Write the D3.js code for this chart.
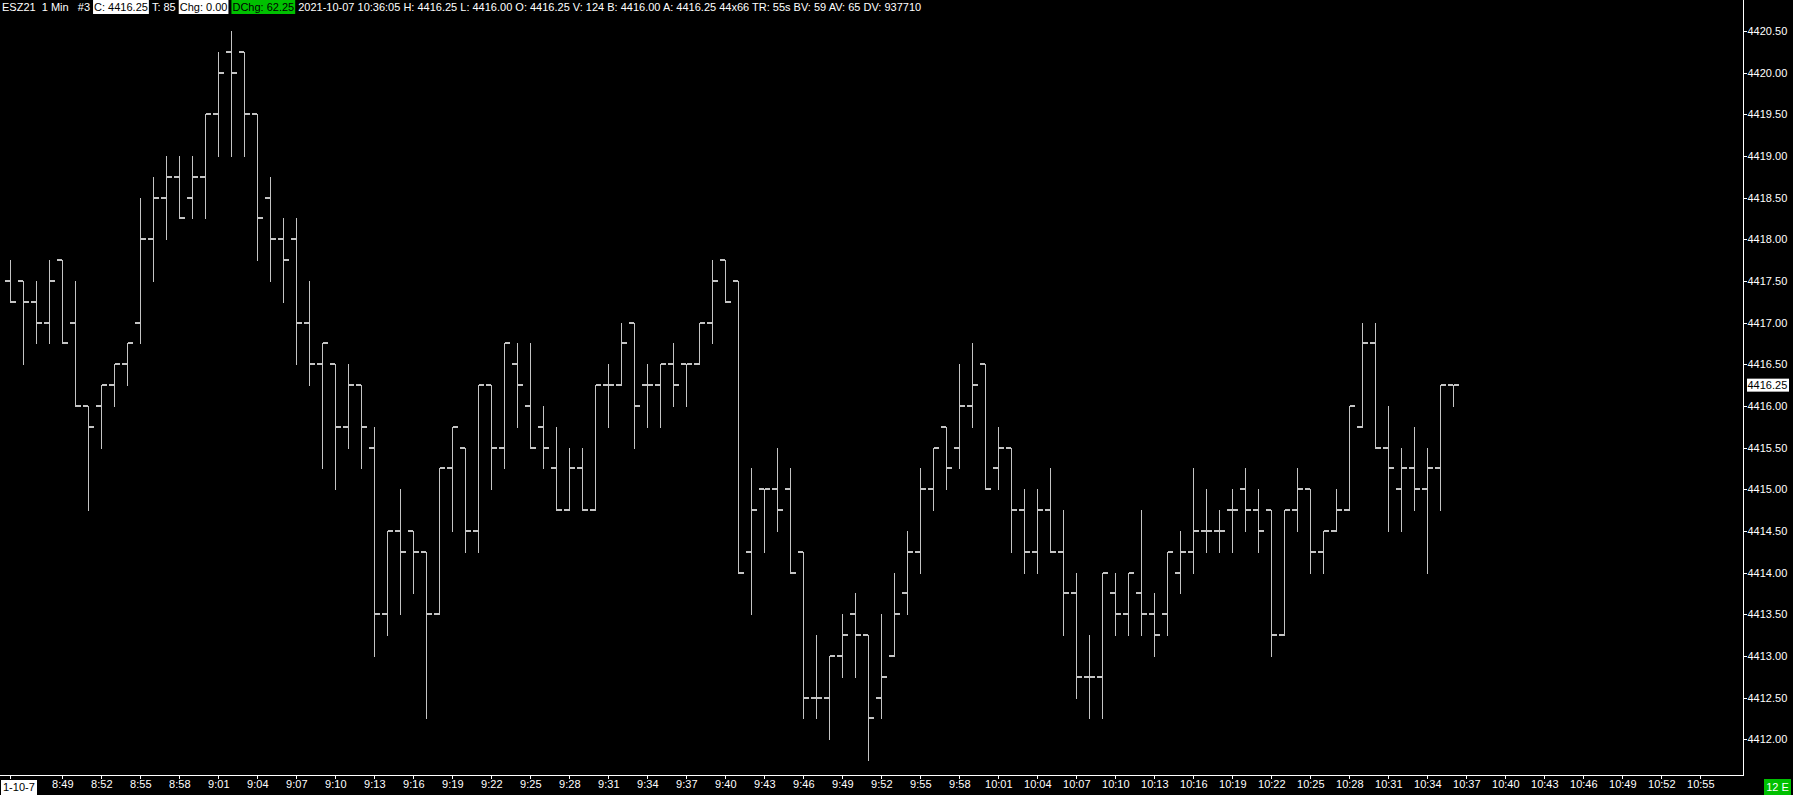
<!DOCTYPE html>
<html>
<head>
<meta charset="utf-8">
<script src="https://cdn.jsdelivr.net/npm/d3@7"></script>
<style>
  html, body { margin: 0; padding: 0; background: #000; }
  svg { display: block; }
</style>
</head>
<body>
<div id="content"></div>
<script>
// bar data, ESZ21 1 min, 8:45 .. 10:36
var opens = [4417.5,4417.5,4417.25,4417.0,4417.75,4417.0,4416.0,4416.0,4416.25,4416.5,
  4417.0,4418.0,4418.5,4418.75,4418.5,4418.75,4419.5,4420.25,4420.25,4419.5,
  4418.5,4418.0,4418.0,4417.0,4416.5,4416.5,4415.75,4416.25,4415.5,4413.5,
  4414.5,4414.5,4414.25,4413.5,4415.25,4415.5,4414.5,4416.25,4415.5,4416.5,
  4416.0,4415.75,4415.25,4414.75,4415.25,4414.75,4416.25,4416.25,4417.0,4416.25,
  4416.25,4416.5,4416.5,4416.5,4417.0,4417.75,4417.5,4414.25,4415.0,4415.0,
  4415.0,4414.25,4412.5,4412.5,4413.0,4413.5,4413.25,4412.5,4413.0,4413.75,
  4414.25,4415.0,4415.75,4415.5,4416.0,4416.5,4415.25,4415.5,4414.75,4414.25,
  4414.75,4414.25,4413.75,4412.75,4412.75,4413.75,4413.5,4413.75,4413.5,4413.5,
  4414.0,4414.25,4414.5,4414.5,4414.75,4415.0,4414.75,4414.75,4413.25,4414.75,
  4415.0,4414.25,4414.5,4414.75,4415.75,4416.75,4415.5,4415.0,4415.25,4415.0,
  4415.25,4416.25]
var highs = [4417.75,4417.5,4417.5,4417.75,4417.75,4417.5,4416.0,4416.25,4416.5,4416.75,
  4418.5,4418.75,4419.0,4419.0,4419.0,4419.5,4420.25,4420.5,4420.25,4419.5,
  4418.75,4418.25,4418.25,4417.5,4416.75,4416.5,4416.5,4416.25,4415.75,4414.5,
  4415.0,4414.5,4414.25,4415.25,4415.75,4415.5,4416.25,4416.25,4416.75,4416.75,
  4416.75,4416.0,4415.75,4415.5,4415.5,4416.25,4416.5,4417.0,4417.0,4416.5,
  4416.5,4416.75,4416.5,4417.0,4417.75,4417.75,4417.5,4415.25,4415.0,4415.5,
  4415.25,4414.25,4413.25,4413.0,4413.5,4413.75,4413.25,4413.5,4414.0,4414.5,
  4415.25,4415.5,4415.75,4416.5,4416.75,4416.5,4415.75,4415.5,4415.0,4415.0,
  4415.25,4414.75,4414.0,4413.25,4414.0,4414.0,4414.0,4414.75,4413.75,4414.25,
  4414.5,4415.25,4415.0,4414.75,4415.0,4415.25,4415.0,4414.75,4414.75,4415.25,
  4415.0,4414.5,4415.0,4416.0,4417.0,4417.0,4416.0,4415.5,4415.75,4415.5,
  4416.25,4416.25]
var lows = [4417.25,4416.5,4416.75,4416.75,4416.75,4416.0,4414.75,4415.5,4416.0,4416.25,
  4416.75,4417.5,4418.0,4418.25,4418.25,4418.25,4419.0,4419.0,4419.0,4417.75,
  4417.5,4417.25,4416.5,4416.25,4415.25,4415.0,4415.5,4415.25,4413.0,4413.25,
  4413.5,4413.75,4412.25,4413.5,4414.5,4414.25,4414.25,4415.0,4415.25,4415.75,
  4415.5,4415.25,4414.75,4414.75,4414.75,4414.75,4415.75,4416.25,4415.5,4415.75,
  4415.75,4416.0,4416.0,4416.5,4416.75,4417.25,4414.0,4413.5,4414.25,4414.5,
  4414.0,4412.25,4412.25,4412.0,4412.75,4412.75,4411.75,4412.25,4413.0,4413.5,
  4414.0,4414.75,4415.0,4415.25,4415.75,4415.0,4415.0,4414.25,4414.0,4414.0,
  4414.25,4413.25,4412.5,4412.25,4412.25,4413.25,4413.25,4413.25,4413.0,4413.25,
  4413.75,4414.0,4414.25,4414.25,4414.25,4414.5,4414.25,4413.0,4413.25,4414.5,
  4414.0,4414.0,4414.5,4414.75,4415.75,4415.5,4414.5,4414.5,4414.75,4414.0,
  4414.75,4416.0]
var closes = [4417.25,4417.25,4417.0,4417.5,4416.75,4416.0,4415.75,4416.25,4416.5,4416.75,
  4418.0,4418.5,4418.75,4418.25,4418.75,4419.5,4420.0,4420.0,4419.5,4418.25,
  4418.0,4417.75,4417.0,4416.5,4416.75,4415.75,4416.25,4415.75,4413.5,4414.5,
  4414.25,4414.25,4413.5,4415.25,4415.75,4414.5,4416.25,4415.5,4416.75,4416.25,
  4415.5,4415.5,4414.75,4415.25,4414.75,4416.25,4416.25,4416.75,4416.0,4416.25,
  4416.5,4416.25,4416.5,4417.0,4417.5,4417.25,4414.0,4414.75,4415.0,4414.75,
  4414.0,4412.5,4412.5,4413.0,4413.25,4413.25,4412.25,4412.75,4413.5,4414.25,
  4415.0,4415.5,4415.25,4416.0,4416.25,4415.0,4415.5,4414.75,4414.25,4414.75,
  4414.25,4413.75,4412.75,4412.75,4414.0,4413.5,4414.0,4413.5,4413.25,4414.25,
  4414.25,4414.5,4414.5,4414.5,4414.75,4414.75,4414.5,4413.25,4414.75,4415.0,
  4414.25,4414.5,4414.75,4416.0,4416.75,4415.5,4415.25,4415.25,4415.0,4415.25,
  4416.25,4416.25]

var firstBar = "08:45"
var lastTick = "10:55"
var priceTicks = d3.range(4412, 4420.51, 0.5)
var lastPrice = 4416.25
var dateLabel = "1-10-7"
var headerParts = [
  ["ESZ21  1 Min   #3", null],
  ["C: 4416.25", "#fff"],
  ["T: 85", null],
  ["Chg: 0.00", "#fff"],
  ["DChg: 62.25", "#00c000"],
  ["2021-10-07 10:36:05 H: 4416.25 L: 4416.00 O: 4416.25 V: 124 B: 4416.00 A: 4416.25 44x66 TR: 55s BV: 59 AV: 65 DV: 937710", null]
]

// chart size
svgwidth = 1793
svgheight = 795
axisX = 1743
axisY = 775
barColor = "#c4c4c4"
fontFam = "'Liberation Sans', Arial, sans-serif"

var parse = d3.timeParse("%H:%M")
var t0 = parse(firstBar)
var times = opens.map(function(d, i) { return d3.timeMinute.offset(t0, i) })

var xScale = d3.scaleTime()
  .domain([t0, parse(lastTick)])
  .range([10.3, 10.3 + 13 * 130])

var yScale = d3.scaleLinear()
  .domain([4412, 4420.5])
  .range([739.3, 31])

var svg = d3.select("#content").append("svg")
  .attr("width", svgwidth)
  .attr("height", svgheight)
  .style("background", "#000")
  .style("font-family", fontFam)

// bars
var px = function(i) { return Math.round(xScale(times[i])) + 0.5 }
var py = function(v) { return Math.round(yScale(v)) }
var bars = svg.append("g").attr("shape-rendering", "crispEdges")
for (var i = 0; i < opens.length; i++) {
  bars.append("line")
    .attr("x1", px(i)).attr("x2", px(i))
    .attr("y1", py(highs[i])).attr("y2", py(lows[i]) + 1)
    .attr("stroke", barColor).attr("stroke-width", 1)
  bars.append("rect")
    .attr("x", px(i) - 5.5).attr("y", py(opens[i]) - 1)
    .attr("width", 5).attr("height", 2)
    .attr("fill", barColor)
  bars.append("rect")
    .attr("x", px(i) + 0.5).attr("y", py(closes[i]) - 1)
    .attr("width", 5).attr("height", 2)
    .attr("fill", barColor)
}

// axes frames
svg.append("line")
  .attr("x1", axisX + 0.5).attr("x2", axisX + 0.5)
  .attr("y1", 0).attr("y2", axisY + 1)
  .attr("stroke", "#fff").attr("shape-rendering", "crispEdges")
svg.append("line")
  .attr("x1", 0).attr("x2", axisX + 1)
  .attr("y1", axisY + 0.5).attr("y2", axisY + 0.5)
  .attr("stroke", "#fff").attr("shape-rendering", "crispEdges")

// price axis
var yAxis = svg.append("g")
  .attr("transform", "translate(" + (axisX + 0.5) + ",0)")
  .call(d3.axisRight(yScale).tickValues(priceTicks).tickFormat(d3.format(".2f")).tickSize(3).tickSizeOuter(0))
yAxis.select(".domain").remove()
yAxis.selectAll("line").attr("stroke", "#fff").attr("shape-rendering", "crispEdges")
yAxis.selectAll("text")
  .attr("x", 4)
  .attr("fill", "#fff")
  .style("font-size", "11px")
  .style("font-family", fontFam)

// last price marker
svg.append("rect")
  .attr("x", axisX + 4).attr("y", yScale(lastPrice) - 6.5)
  .attr("width", 42).attr("height", 13)
  .attr("fill", "#fff")
svg.append("text")
  .attr("x", axisX + 4.5).attr("y", yScale(lastPrice))
  .attr("dy", "0.35em")
  .attr("fill", "#000")
  .style("font-size", "11px")
  .text(d3.format(".2f")(lastPrice))

// time axis, label every 3 min starting 8:49
var timeTicks = d3.timeMinute.range(d3.timeMinute.offset(t0, 4), d3.timeMinute.offset(parse(lastTick), 1), 3)
var xAxis = svg.append("g")
  .attr("transform", "translate(0," + (axisY + 0.5) + ")")
  .call(d3.axisBottom(xScale).tickValues([t0].concat(timeTicks)).tickFormat(function(d, i) {
    return i == 0 ? "" : d3.timeFormat("%-H:%M")(d)
  }).tickSize(3).tickSizeOuter(0))
xAxis.select(".domain").remove()
xAxis.selectAll("line").attr("stroke", "#fff").attr("shape-rendering", "crispEdges")
xAxis.selectAll("text")
  .attr("y", 5)
  .attr("fill", "#fff")
  .style("font-size", "11px")
  .style("font-family", fontFam)

// date box on first bar
svg.append("rect")
  .attr("x", 1).attr("y", 780)
  .attr("width", 36).attr("height", 15)
  .attr("fill", "#fff")
svg.append("text")
  .attr("x", 3).attr("y", 791)
  .attr("fill", "#000")
  .style("font-size", "11px")
  .text(dateLabel)

// green box bottom right
svg.append("rect")
  .attr("x", 1764).attr("y", 779)
  .attr("width", 27).attr("height", 16)
  .attr("fill", "#00c000")
svg.append("text")
  .attr("x", 1777.5).attr("y", 791)
  .attr("text-anchor", "middle")
  .attr("fill", "#fff")
  .style("font-size", "11px")
  .text("12 E")

// header line
var header = svg.append("g")
var hx = 2
for (var j = 0; j < headerParts.length; j++) {
  var part = headerParts[j]
  var box = header.append("rect")
  var tx = header.append("text")
    .attr("x", hx + (part[1] ? 1 : 0)).attr("y", 11)
    .attr("fill", part[1] ? "#000" : "#fff")
    .style("font-size", "11px")
    .style("white-space", "pre")
    .text(part[0])
  var w = tx.node().getComputedTextLength()
  if (part[1]) {
    box.attr("x", hx).attr("y", 0)
      .attr("width", w + 2).attr("height", 14)
      .attr("fill", part[1])
    hx += w + 2 + 3
  } else {
    box.remove()
    hx += w + 3
  }
}
</script>
</body>
</html>
